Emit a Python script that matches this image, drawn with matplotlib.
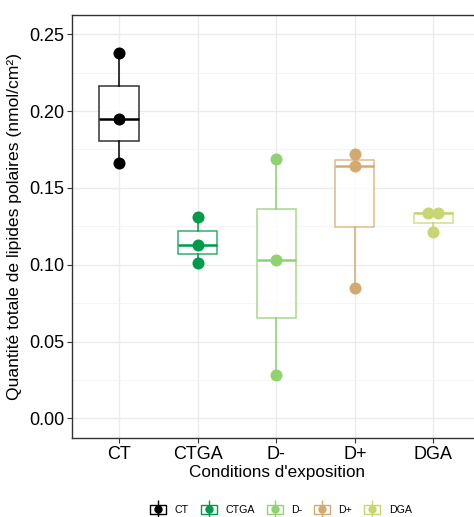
import numpy as np
import matplotlib
matplotlib.use("Agg")
import matplotlib.pyplot as plt
from matplotlib.patches import Rectangle
from matplotlib.lines import Line2D
from matplotlib.legend_handler import HandlerTuple

plt.rcParams['font.family'] = ['Liberation Sans', 'DejaVu Sans']

conditions = ["CT", "CTGA", "D-", "D+", "DGA"]
colors = ["#000000", "#009B4A", "#8ED36E", "#D4A96F", "#C9D571"]
ct = [0.238, 0.195, 0.166]
ctga = [0.131, 0.113, 0.101]
d_minus = [0.169, 0.103, 0.028]
d_plus = [0.172, 0.164, 0.085]
dga = [0.134, 0.134, 0.121]
values = [ct, ctga, d_minus, d_plus, dga]

fig = plt.figure(figsize=(4.74, 5.17), dpi=100)
W, H = 474, 517
ax = fig.add_axes([72 / W, 1 - 438 / H, (482 - 72) / W, (438 - 15) / H])

for i, (vals, col) in enumerate(zip(values, colors)):
    pos = i + 1
    bp = ax.boxplot(vals, positions=[pos], widths=0.5, whis=1.5,
                    patch_artist=True, showfliers=False, zorder=2,
                    boxprops=dict(facecolor="white", edgecolor=col, linewidth=1.1, alpha=0.8),
                    medianprops=dict(color=col, linewidth=1.8),
                    whiskerprops=dict(color=col, linewidth=1.1),
                    capprops=dict(linewidth=0))
    # spread identical values side by side
    xs = np.full(len(vals), float(pos))
    for v in set(vals):
        idx = [k for k, w in enumerate(vals) if w == v]
        if len(idx) > 1:
            offs = (np.arange(len(idx)) - (len(idx) - 1) / 2) * 0.13
            xs[idx] = pos + offs
    ax.scatter(xs, vals, s=75, color=col, zorder=3, linewidths=0)

ax.set_xlim(0.4, 5.62)
ax.set_ylim(-0.0127, 0.2625)
ax.set_xticks(range(1, 6))
ax.set_xticklabels(conditions)
ax.set_yticks([0, 0.05, 0.1, 0.15, 0.2, 0.25])
ax.set_yticklabels(["0.00", "0.05", "0.10", "0.15", "0.20", "0.25"])
ax.set_yticks(np.arange(0.025, 0.26, 0.05), minor=True)
ax.grid(True, which="major", color="#EBEBEB", linewidth=1.0, zorder=0)
ax.grid(True, which="minor", axis="y", color="#F2F2F2", linewidth=0.6, zorder=0)
ax.set_axisbelow(True)
ax.tick_params(axis="both", which="major", labelsize=13, color="#333333", length=3.5,
               pad=2, labelcolor="black")
ax.tick_params(axis="y", which="minor", length=0)
for s in ax.spines.values():
    s.set_color("#333333")
    s.set_linewidth(1.0)

ax.set_xlabel("Conditions d'exposition", fontsize=12.3, labelpad=2)
ax.set_ylabel("Quantité totale de lipides polaires (nmol/cm²)", fontsize=12.6, labelpad=5)

handles = []
for col in colors:
    r = Rectangle((0, 0), 1, 1, facecolor="white", edgecolor=col, linewidth=1.0)
    vl = Line2D([], [], marker="|", markersize=13, color=col, linestyle="none", markeredgewidth=1.0)
    pt = Line2D([], [], marker="o", markersize=5, color=col, linestyle="none")
    handles.append((r, vl, pt))
fig.legend(handles, conditions, handler_map={tuple: HandlerTuple(ndivide=1)},
           loc="center", bbox_to_anchor=(281 / W, 1 - 510 / H), ncol=5, frameon=False,
           fontsize=7.7, handlelength=1.5, handleheight=0.9, handletextpad=0.8,
           columnspacing=1.1)

fig.savefig("out.png", dpi=100)
